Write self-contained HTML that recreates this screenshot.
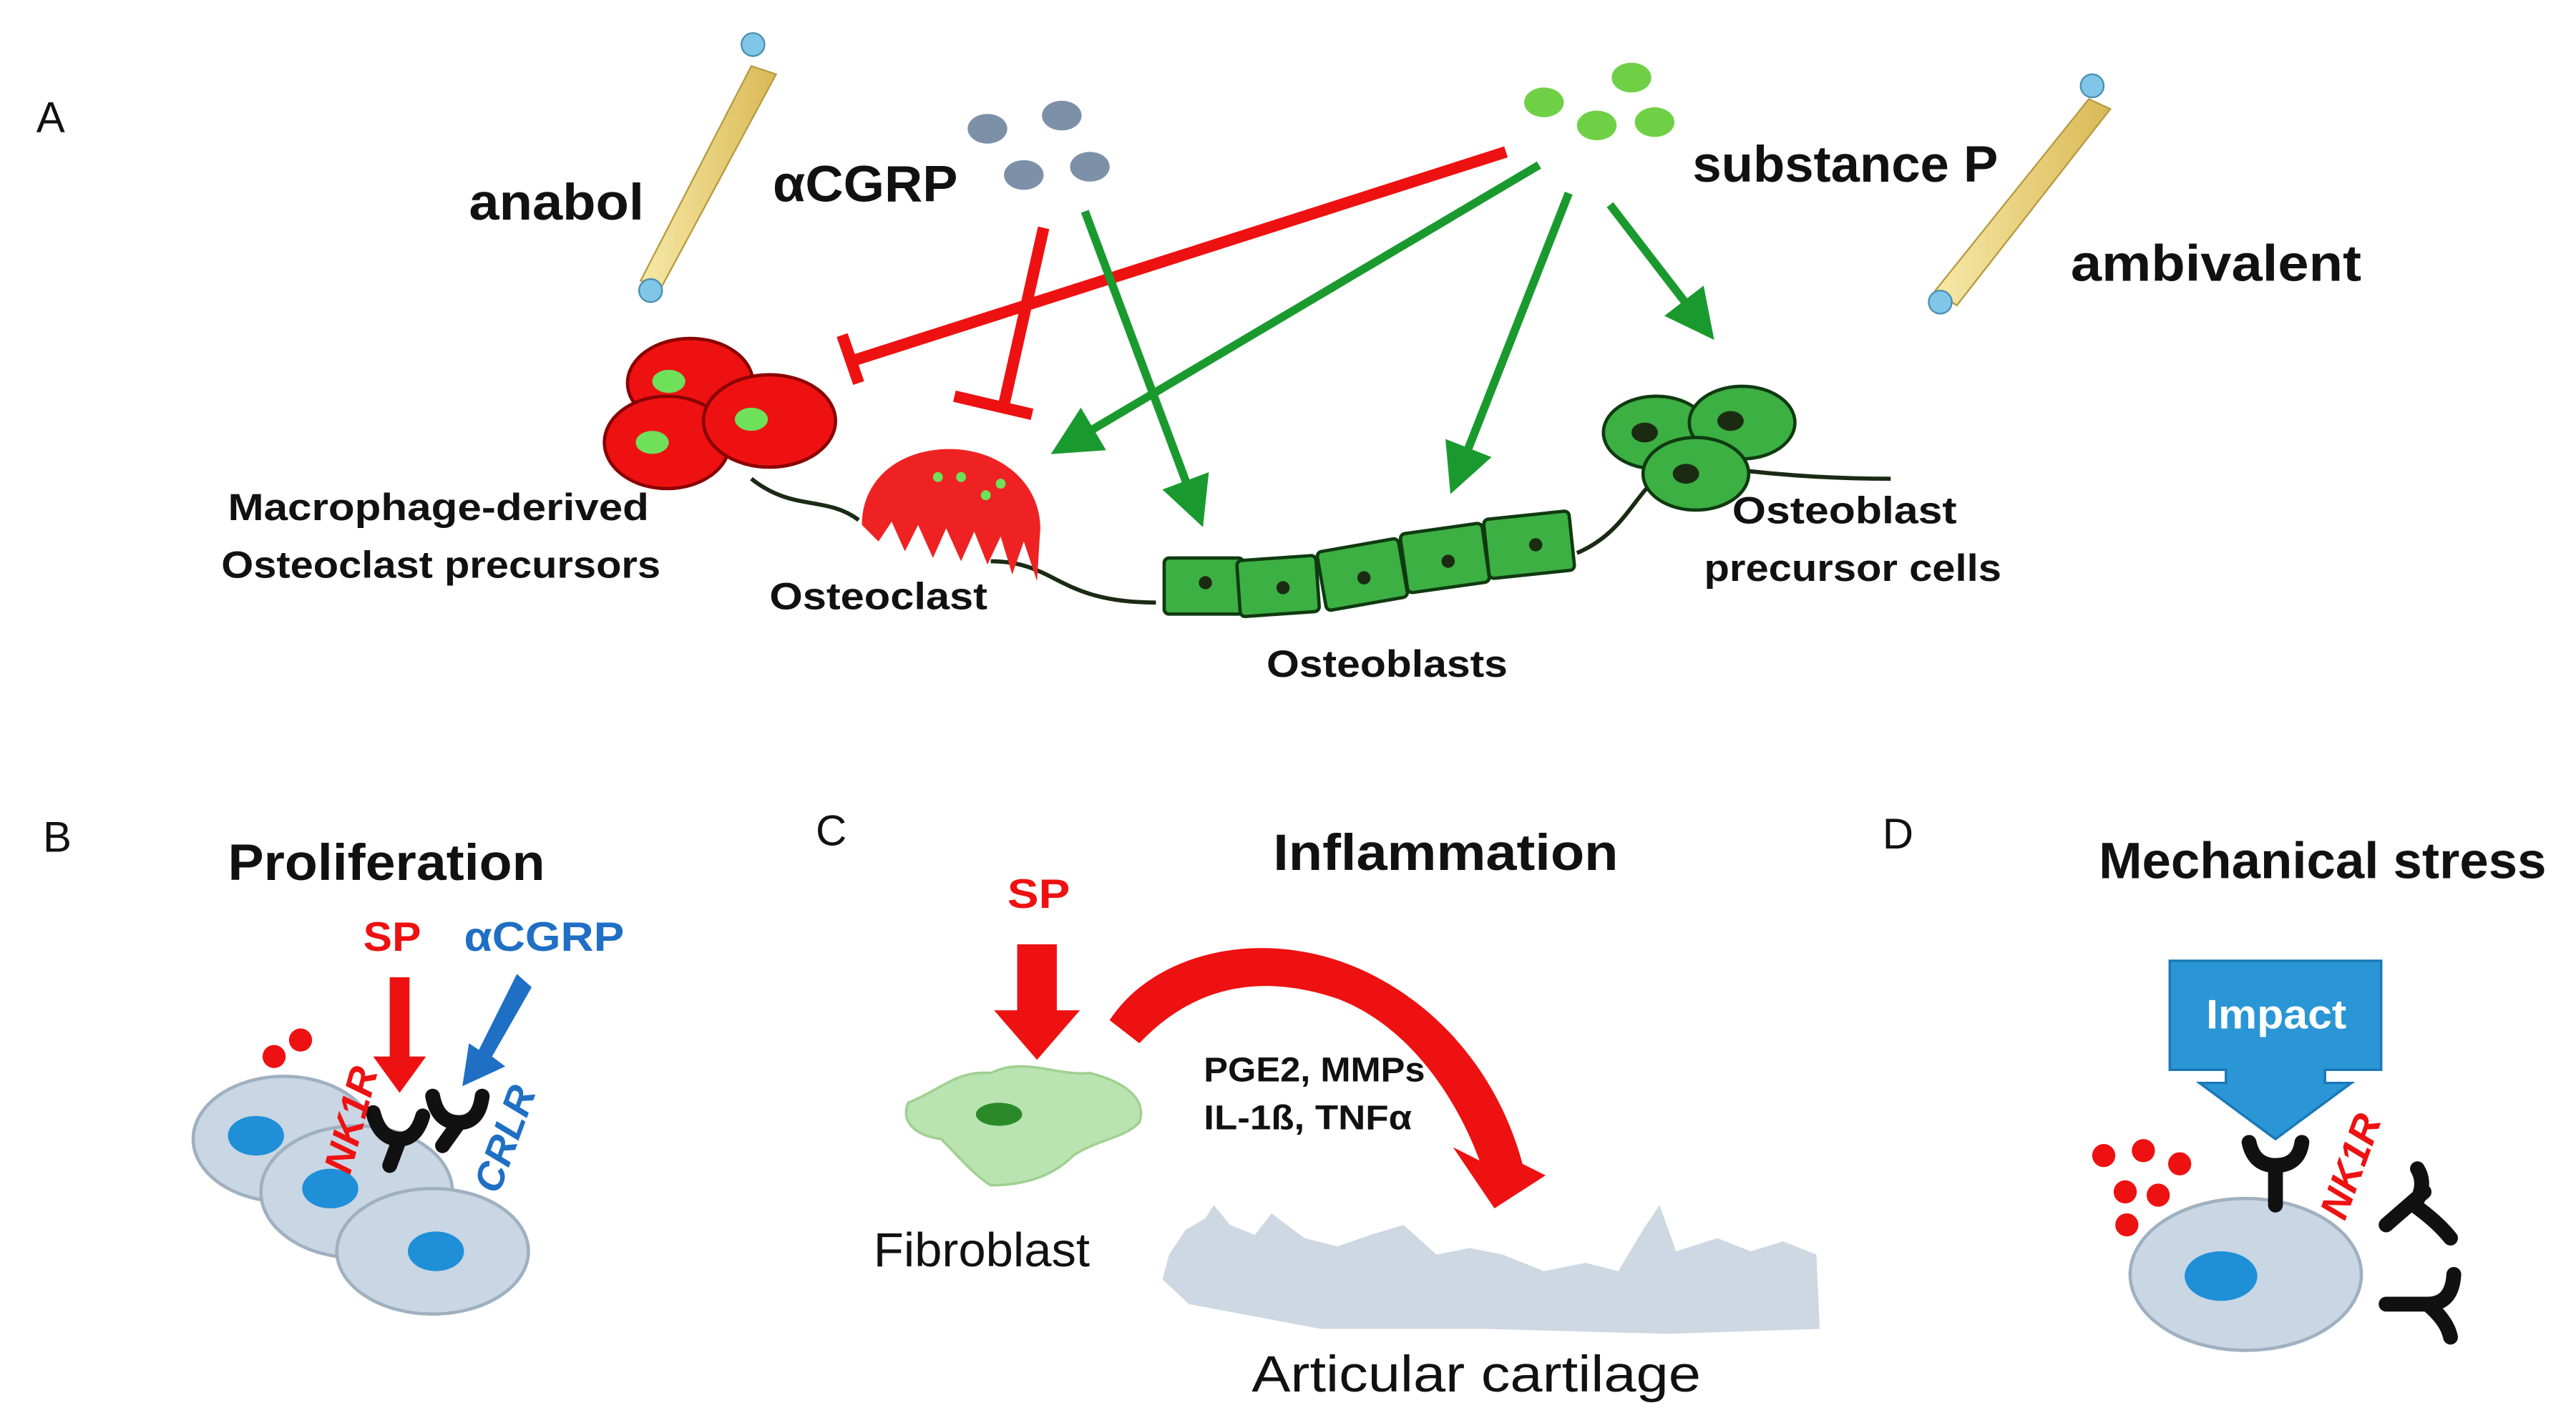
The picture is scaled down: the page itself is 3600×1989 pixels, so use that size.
<!DOCTYPE html>
<html><head><meta charset="utf-8"><style>
html,body{margin:0;padding:0;background:#fff;}
svg{display:block;}
text{font-family:"Liberation Sans Narrow","Liberation Sans",sans-serif;}
</style></head><body>
<svg width="3600" height="1989" viewBox="0 0 1560 862" preserveAspectRatio="none" xmlns="http://www.w3.org/2000/svg">
<defs>
<marker id="ga" markerWidth="6" markerHeight="6" refX="4" refY="3" orient="auto" markerUnits="strokeWidth"><path d="M0,0 L6,3 L0,6 Z" fill="#1a9a2e"/></marker>
<linearGradient id="bone" x1="0" x2="1"><stop offset="0" stop-color="#f7e9a8"/><stop offset="1" stop-color="#d9b955"/></linearGradient>
</defs>
<text x="22" y="80" font-size="26" fill="#111">A</text>
<text x="284" y="133" font-size="31" font-weight="bold" fill="#111" textLength="106" lengthAdjust="spacingAndGlyphs">anabol</text>
<text x="468" y="122" font-size="31" font-weight="bold" fill="#111" textLength="112" lengthAdjust="spacingAndGlyphs">αCGRP</text>
<text x="1025" y="110" font-size="31" font-weight="bold" fill="#111" textLength="185" lengthAdjust="spacingAndGlyphs">substance P</text>
<text x="1254" y="170" font-size="31" font-weight="bold" fill="#111" textLength="176" lengthAdjust="spacingAndGlyphs">ambivalent</text>
<g>
<path d="M455,40 L470,45 L400,175 L388,170 Z" fill="url(#bone)" stroke="#b89a40" stroke-width="1"/>
<circle cx="456" cy="27" r="7" fill="#7fc6e8" stroke="#4a8fb0"/><circle cx="394" cy="176" r="7" fill="#7fc6e8" stroke="#4a8fb0"/>
<path d="M1265,60 L1278,66 L1185,185 L1172,176 Z" fill="url(#bone)" stroke="#b89a40" stroke-width="1"/>
<circle cx="1267" cy="52" r="7" fill="#7fc6e8" stroke="#4a8fb0"/><circle cx="1175" cy="183" r="7" fill="#7fc6e8" stroke="#4a8fb0"/>
</g>
<g fill="#7c90a8"><ellipse cx="598" cy="78" rx="12" ry="9"/><ellipse cx="643" cy="70" rx="12" ry="9"/><ellipse cx="620" cy="106" rx="12" ry="9"/><ellipse cx="660" cy="101" rx="12" ry="9"/></g>
<g fill="#6fd046"><ellipse cx="935" cy="62" rx="12" ry="9"/><ellipse cx="988" cy="47" rx="12" ry="9"/><ellipse cx="967" cy="76" rx="12" ry="9"/><ellipse cx="1002" cy="74" rx="12" ry="9"/></g>
<g stroke="#ee1111" stroke-width="7" fill="none">
<line x1="912" y1="92" x2="518" y2="218"/><line x1="510" y1="203" x2="520" y2="232"/>
<line x1="632" y1="138" x2="608" y2="245"/><line x1="578" y1="240" x2="625" y2="251"/>
</g>
<g stroke="#1a9a2e" stroke-width="5" fill="none" marker-end="url(#ga)">
<line x1="657" y1="128" x2="725" y2="310"/>
<line x1="932" y1="100" x2="645" y2="270"/>
<line x1="950" y1="117" x2="882" y2="290"/>
<line x1="975" y1="124" x2="1032" y2="198"/>
</g>
<path d="M455,290 C480,310 500,300 520,315 M600,340 C640,340 640,365 700,365 M955,335 C990,320 990,290 1020,280 Q1080,290 1145,290" stroke="#1a2a14" stroke-width="2.5" fill="none"/>
<g fill="#ee1111" stroke="#8a0000" stroke-width="2">
<ellipse cx="418" cy="232" rx="38" ry="27"/><ellipse cx="404" cy="268" rx="38" ry="28"/><ellipse cx="466" cy="255" rx="40" ry="28"/>
</g>
<g fill="#6fe05a"><ellipse cx="405" cy="231" rx="10" ry="7"/><ellipse cx="395" cy="268" rx="10" ry="7"/><ellipse cx="455" cy="254" rx="10" ry="7"/></g>
<path d="M522,318 C522,290 545,272 575,272 C605,272 630,292 630,320 L628,352 L620,328 L613,348 L606,325 L598,342 L590,322 L582,340 L573,320 L565,338 L556,318 L548,334 L540,316 L532,328 Z" fill="#ee2222"/>
<g fill="#6fe05a"><circle cx="568" cy="289" r="3"/><circle cx="582" cy="289" r="3"/><circle cx="597" cy="300" r="3"/><circle cx="606" cy="293" r="3"/></g>
<g fill="#3cb043" stroke="#0f3a10" stroke-width="2">
<rect x="705" y="338" width="48" height="34" rx="3"/>
<rect x="750" y="338" width="48" height="34" rx="3" transform="rotate(-4 774 355)"/>
<rect x="800" y="330" width="50" height="36" rx="3" transform="rotate(-10 825 348)"/>
<rect x="850" y="320" width="50" height="36" rx="3" transform="rotate(-8 875 338)"/>
<rect x="900" y="312" width="52" height="36" rx="3" transform="rotate(-6 926 330)"/>
</g>
<g fill="#1b2b12"><circle cx="730" cy="353" r="4"/><circle cx="777" cy="356" r="4"/><circle cx="826" cy="350" r="4"/><circle cx="877" cy="340" r="4"/><circle cx="930" cy="330" r="4"/></g>
<g fill="#3cb043" stroke="#0f3a10" stroke-width="2">
<ellipse cx="1003" cy="262" rx="32" ry="22"/><ellipse cx="1055" cy="256" rx="32" ry="22"/><ellipse cx="1027" cy="287" rx="32" ry="22"/>
</g>
<g fill="#1b2b12"><ellipse cx="996" cy="262" rx="8" ry="6"/><ellipse cx="1048" cy="255" rx="8" ry="6"/><ellipse cx="1021" cy="287" rx="8" ry="6"/></g>
<g font-size="23" font-weight="bold" fill="#111">
<text x="138" y="315" textLength="255" lengthAdjust="spacingAndGlyphs">Macrophage-derived</text>
<text x="134" y="350" textLength="266" lengthAdjust="spacingAndGlyphs">Osteoclast precursors</text>
<text x="466" y="369" textLength="132" lengthAdjust="spacingAndGlyphs">Osteoclast</text>
<text x="767" y="410" textLength="146" lengthAdjust="spacingAndGlyphs">Osteoblasts</text>
<text x="1049" y="317" textLength="136" lengthAdjust="spacingAndGlyphs">Osteoblast</text>
<text x="1032" y="352" textLength="180" lengthAdjust="spacingAndGlyphs">precursor cells</text>
</g>
<text x="26" y="516" font-size="26" fill="#111">B</text>
<text x="138" y="533" font-size="31" font-weight="bold" fill="#111" textLength="192" lengthAdjust="spacingAndGlyphs">Proliferation</text>
<text x="220" y="576" font-size="25" font-weight="bold" fill="#ee1111" textLength="35" lengthAdjust="spacingAndGlyphs">SP</text>
<text x="281" y="576" font-size="25" font-weight="bold" fill="#1f6fc5" textLength="97" lengthAdjust="spacingAndGlyphs">αCGRP</text>
<g fill="#c9d6e3" stroke="#9fb0c0" stroke-width="2">
<ellipse cx="172" cy="690" rx="55" ry="38"/><ellipse cx="216" cy="722" rx="58" ry="40"/><ellipse cx="262" cy="758" rx="58" ry="38"/>
</g>
<g fill="#1f8fd8"><ellipse cx="155" cy="688" rx="17" ry="12"/><ellipse cx="200" cy="720" rx="17" ry="12"/><ellipse cx="264" cy="758" rx="17" ry="12"/></g>
<g fill="#ee1111"><circle cx="166" cy="640" r="7"/><circle cx="182" cy="630" r="7"/></g>
<path d="M236,592 L248,592 L248,640 L258,640 L242,662 L226,640 L236,640 Z" fill="#ee1111"/>
<path d="M313,590 L322,598 L298,640 L306,646 L280,658 L284,632 L290,636 Z" fill="#1f6fc5"/>
<g stroke="#111" stroke-width="9" fill="none" stroke-linecap="round">
<path d="M226,674 Q230,690 242,690 Q252,690 256,676 M242,690 L236,706"/>
<path d="M262,664 Q265,680 278,680 Q290,680 292,664 M278,680 L268,694"/>
</g>
<text transform="translate(212,712) rotate(-75)" font-size="24" font-weight="bold" font-style="italic" fill="#ee1111">NK1R</text>
<text transform="translate(302,724) rotate(-70)" font-size="24" font-weight="bold" font-style="italic" fill="#1f6fc5">CRLR</text>
<text x="494" y="512" font-size="26" fill="#111">C</text>
<text x="771" y="527" font-size="31" font-weight="bold" fill="#111" textLength="209" lengthAdjust="spacingAndGlyphs">Inflammation</text>
<text x="610" y="550" font-size="25" font-weight="bold" fill="#ee1111" textLength="38" lengthAdjust="spacingAndGlyphs">SP</text>
<path d="M616,572 L640,572 L640,612 L654,612 L628,642 L602,612 L616,612 Z" fill="#ee1111"/>
<path d="M672,618 C700,575 770,560 830,590 C880,615 910,660 922,705 L936,712 L905,732 L880,695 L896,703 C880,660 850,620 810,605 C760,588 720,600 690,632 Z" fill="#ee1111"/>
<path d="M550,668 C570,660 580,648 600,650 C620,640 640,652 660,650 C680,655 695,665 690,680 C680,690 665,690 650,700 C640,710 625,718 600,718 C590,712 580,700 570,690 C555,688 545,680 550,668 Z" fill="#b9e3b0" stroke="#9fd090" stroke-width="1.5"/>
<ellipse cx="605" cy="675" rx="14" ry="7" fill="#2a8a2a"/>
<text x="729" y="655" font-size="21" font-weight="bold" fill="#111" textLength="134" lengthAdjust="spacingAndGlyphs">PGE2, MMPs</text>
<text x="729" y="684" font-size="21" font-weight="bold" fill="#111" textLength="126" lengthAdjust="spacingAndGlyphs">IL-1ß, TNFα</text>
<text x="529" y="767" font-size="29" fill="#111" textLength="131" lengthAdjust="spacingAndGlyphs">Fibroblast</text>
<path d="M708,760 L718,745 L730,738 L735,730 L745,742 L760,748 L770,735 L790,750 L810,755 L830,748 L850,742 L870,760 L890,756 L910,760 L935,770 L960,765 L980,770 L995,745 L1005,730 L1015,758 L1040,750 L1060,758 L1080,752 L1100,760 L1102,805 L1010,808 L900,805 L800,805 L720,790 L704,775 Z" fill="#cdd8e3"/>
<text x="758" y="843" font-size="31" fill="#111" textLength="272" lengthAdjust="spacingAndGlyphs">Articular cartilage</text>
<text x="1140" y="514" font-size="26" fill="#111">D</text>
<text x="1271" y="532" font-size="31" font-weight="bold" fill="#111" textLength="271" lengthAdjust="spacingAndGlyphs">Mechanical stress</text>
<path d="M1314,582 L1442,582 L1442,648 L1408,648 L1408,656 L1424,656 L1378,690 L1332,656 L1348,656 L1348,648 L1314,648 Z" fill="#2a96d6" stroke="#1a78b8" stroke-width="1.5"/>
<text x="1336" y="623" font-size="25" font-weight="bold" fill="#fff" textLength="85" lengthAdjust="spacingAndGlyphs">Impact</text>
<g fill="#ee1111"><circle cx="1274" cy="700" r="7"/><circle cx="1298" cy="697" r="7"/><circle cx="1320" cy="705" r="7"/><circle cx="1287" cy="722" r="7"/><circle cx="1307" cy="724" r="7"/><circle cx="1288" cy="742" r="7"/></g>
<ellipse cx="1360" cy="772" rx="70" ry="46" fill="#c9d6e3" stroke="#9fb0c0" stroke-width="2"/>
<ellipse cx="1345" cy="773" rx="22" ry="15" fill="#1f8fd8"/>
<g stroke="#111" stroke-width="9" fill="none" stroke-linecap="round">
<path d="M1362,692 Q1365,706 1378,706 Q1392,706 1394,692 M1378,706 L1378,730"/>
<path d="M1445,742 L1468,722 M1462,730 Q1476,740 1484,750 M1462,730 Q1470,718 1464,708"/>
<path d="M1445,790 L1470,790 M1470,790 Q1485,790 1486,772 M1470,790 Q1482,800 1484,810"/>
</g>
<text transform="translate(1420,740) rotate(-70)" font-size="24" font-weight="bold" font-style="italic" fill="#ee1111">NK1R</text>
</svg>
</body></html>
